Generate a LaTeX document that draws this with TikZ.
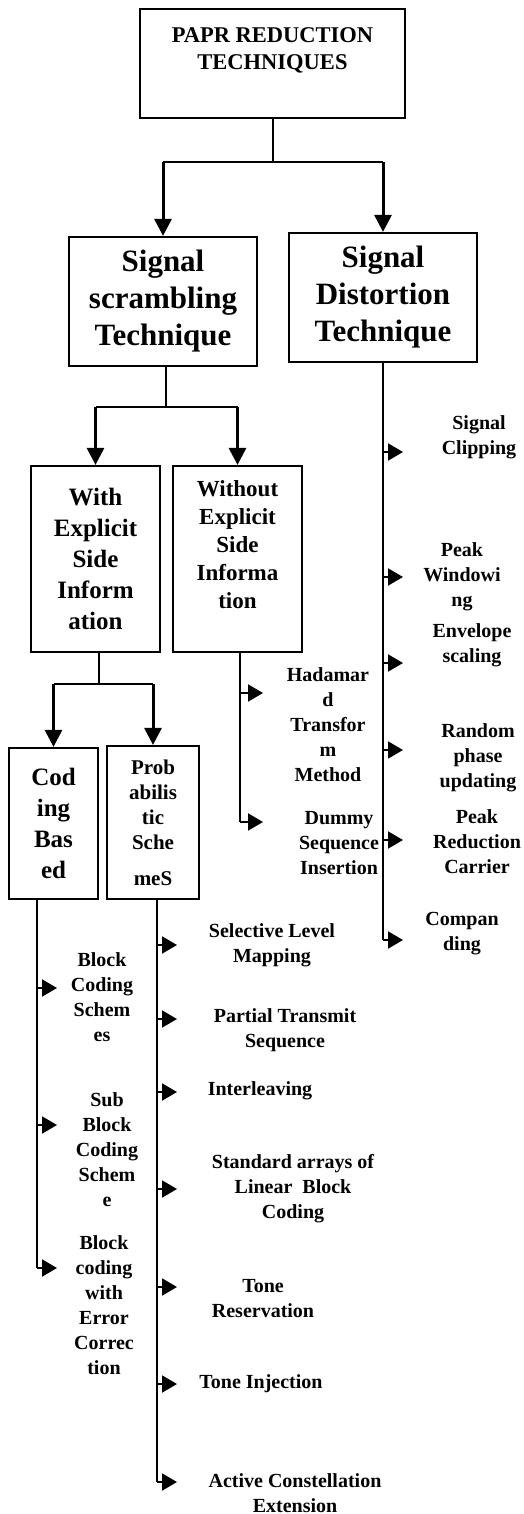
\documentclass[tikz,border=0pt]{standalone}
\usepackage{fontspec}
\setmainfont{Liberation Serif}
\usetikzlibrary{arrows.meta}

\begin{document}
\begin{tikzpicture}[x=1pt, y=-1pt,
        box/.style={draw, line width=2.2pt, inner sep=0pt, align=center},
        leaf/.style={inner sep=0pt, align=center, font=\fontsize{20}{25}\selectfont\bfseries},
        wire/.style={line width=2pt},
        bigarrow/.style={line width=3pt, -{Triangle[length=17pt,width=17pt]}},
        branch/.style={line width=2pt, -{Triangle[length=15pt,width=17pt]}}]
    \path[use as bounding box, fill=white] (0,0) rectangle (524,1514);

    % Top level
    \node[box, minimum width=265, minimum height=109, font=\fontsize{22.5}{27}\selectfont\bfseries]
        (papr) at (272.5,63.5) {PAPR REDUCTION\\TECHNIQUES\\[3pt]\mbox{}};

    % Technique level
    \node[box, minimum width=188, minimum height=129, font=\fontsize{31}{37}\selectfont\bfseries]
        (scr) at (163,301.5) {Signal\\scrambling\\Technique};
    \node[box, minimum width=188, minimum height=129, font=\fontsize{31}{37}\selectfont\bfseries]
        (dist) at (383,297.5) {Signal\\Distortion\\Technique};
    \coordinate (j1) at (272,162);
    \draw[wire] (papr.south) -- (papr.south |- j1);
    \draw[wire] (scr.north |- j1) -- (dist.north |- j1);
    \draw[bigarrow] (scr.north |- j1) -- (scr.north);
    \draw[bigarrow] (dist.north |- j1) -- (dist.north);

    % Side information level
    \node[box, minimum width=129, minimum height=186, font=\fontsize{25}{31}\selectfont\bfseries]
        (withsi) at (95.5,559) {With\\Explicit\\Side\\Inform\\ation};
    \node[box, minimum width=129, minimum height=186, font=\fontsize{23}{28}\selectfont\bfseries]
        (nosi) at (237.5,559) {Without\\Explicit\\Side\\Informa\\tion\\\mbox{}};
    \coordinate (j2) at (166,407);
    \draw[wire] (scr.south -| j2) -- (j2);
    \draw[wire] (withsi.north |- j2) -- (nosi.north |- j2);
    \draw[bigarrow] (withsi.north |- j2) -- (withsi.north);
    \draw[bigarrow] (nosi.north |- j2) -- (nosi.north);

    % Scheme level
    \node[box, minimum width=89, minimum height=151, font=\fontsize{25}{31}\selectfont\bfseries]
        (coding) at (53.5,823.5) {Cod\\ing\\Bas\\ed};
    \node[box, minimum width=92, minimum height=153, font=\fontsize{21}{25}\selectfont\bfseries]
        (prob) at (153,822.5) {Prob\\abilis\\tic\\Sche\\[11pt]meS};
    \coordinate (j3) at (99,684);
    \draw[wire] (withsi.south -| j3) -- (j3);
    \draw[wire] (coding.north |- j3) -- (prob.north |- j3);
    \draw[bigarrow] (coding.north |- j3) -- (coding.north);
    \draw[bigarrow] (prob.north |- j3) -- (prob.north);

    % Distortion techniques
    \node[leaf] (clip) at (479,437) {Signal\\Clipping};
    \node[leaf] (peakw) at (462,577) {Peak\\Windowi\\ng};
    \node[leaf] (envel) at (472,645) {Envelope\\scaling};
    \node[leaf] (random) at (478,758) {Random\\phase\\updating};
    \node[leaf] (peakr) at (477,842) {Peak\\Reduction\\Carrier};
    \node[leaf] (compand) at (462,934) {Compan\\ding};
    \coordinate (dtip) at (403,0);
    \coordinate (d1) at (383,452);
    \coordinate (d2) at (383,577);
    \coordinate (d3) at (383,663);
    \coordinate (d4) at (383,750);
    \coordinate (d5) at (383,840);
    \coordinate (d6) at (383,940);
    \draw[wire] (dist.south) -- (d6);
    \foreach \p in {d1,d2,d3,d4,d5,d6}
        \draw[branch] (\p) -- (\p -| dtip);

    % Without side information
    \node[leaf] (hadam) at (328,725) {Hadamar\\d\\Transfor\\m\\Method};
    \node[leaf] (dummy) at (339,843) {Dummy\\Sequence\\Insertion};
    \coordinate (wtip) at (263,0);
    \coordinate (w1) at (240,693);
    \coordinate (w2) at (240,822);
    \draw[wire] (nosi.south -| w2) -- (w2);
    \foreach \p in {w1,w2}
        \draw[branch] (\p) -- (\p -| wtip);

    % Coding based
    \node[leaf] (bcs) at (102,997) {Block\\Coding\\Schem\\es};
    \node[leaf] (sbcs) at (107,1150) {Sub\\Block\\Coding\\Schem\\e};
    \node[leaf] (bcec) at (104,1305) {Block\\coding\\with\\Error\\Correc\\tion};
    \coordinate (ctip) at (57,0);
    \coordinate (c1) at (37,988);
    \coordinate (c2) at (37,1125);
    \coordinate (c3) at (37,1268);
    \draw[wire] (coding.south -| c3) -- (c3);
    \foreach \p in {c1,c2,c3}
        \draw[branch] (\p) -- (\p -| ctip);

    % Probabilistic schemes
    \node[leaf] (slm) at (272,945) {Selective Level\\Mapping};
    \node[leaf] (pts) at (285,1030) {Partial Transmit\\Sequence};
    \node[leaf] (interl) at (260,1091) {Interleaving};
    \node[leaf] (salbc) at (293,1189) {Standard arrays of\\Linear~ Block\\Coding};
    \node[leaf] (tres) at (263,1299) {Tone\\Reservation};
    \node[leaf] (tinj) at (261,1384) {Tone Injection};
    \node[leaf] (ace) at (295,1493) {Active Constellation\\Extension};
    \coordinate (ptip) at (177,0);
    \coordinate (p1) at (157,945);
    \coordinate (p2) at (157,1019);
    \coordinate (p3) at (157,1092);
    \coordinate (p4) at (157,1189);
    \coordinate (p5) at (157,1287);
    \coordinate (p6) at (157,1384);
    \coordinate (p7) at (157,1482);
    \draw[wire] (prob.south -| p7) -- (p7);
    \foreach \p in {p1,p2,p3,p4,p5,p6,p7}
        \draw[branch] (\p) -- (\p -| ptip);
\end{tikzpicture}
\end{document}
